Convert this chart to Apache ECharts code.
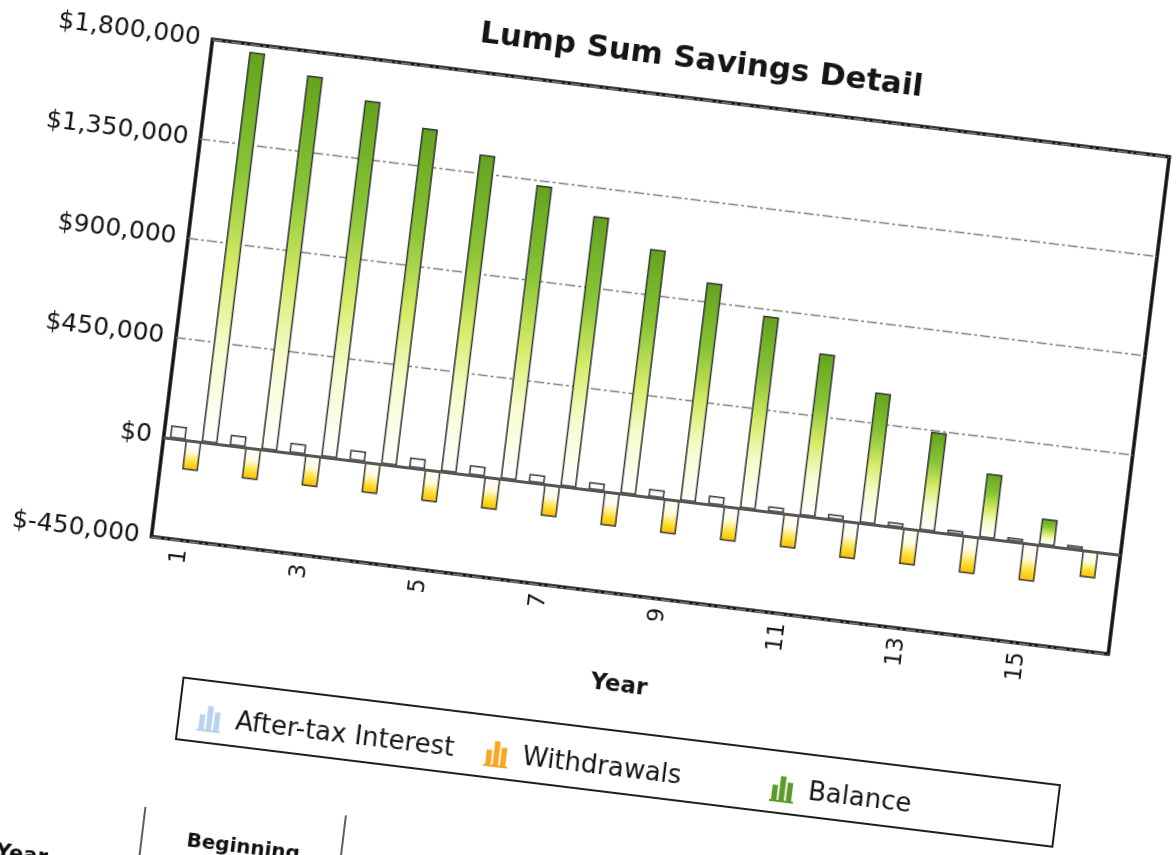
<!DOCTYPE html>
<html>
<head>
<meta charset="utf-8">
<script src="https://cdn.jsdelivr.net/npm/echarts@6/dist/echarts.min.js"></script>
<style>
  html, body { margin: 0; padding: 0; width: 1176px; height: 855px; overflow: hidden; background: #fff; }
  /* the printed page sits tilted on the scanner bed */
  #chart { position: absolute; left: 0; top: 0; width: 1260px; height: 960px;
           transform-origin: 588px 427.5px; transform: rotate(7deg); }
</style>
</head>
<body>
<div id="chart"></div>
<script>
// Year-by-year schedule of the lump sum account
const years = ['1', '2', '3', '4', '5', '6', '7', '8', '9', '10', '11', '12', '13', '14', '15', '16'];
const afterTaxInterest = [57000, 48000, 45000, 46000, 45000, 44000, 37000, 34000, 36000, 40000, 24000, 23000, 20000, 18000, 17000, 16000];
const withdrawals = [-133000, -141000, -140000, -138000, -142000, -143000, -143000, -153000, -155000, -155000, -152000, -167000, -163000, -168000, -169000, -121000];
const balance = [1765000, 1692000, 1612000, 1522000, 1434000, 1328000, 1222000, 1106000, 988000, 870000, 733000, 590000, 445000, 290000, 119000, 0];

const yTickValues = [-450000, 0, 450000, 900000, 1350000, 1800000];
const yTickLabels = ['$-450,000', '$0', '$450,000', '$900,000', '$1,350,000', '$1,800,000'];
const seriesNames = ['After-tax Interest', 'Withdrawals', 'Balance'];
const legendColors = ['#b9d2ee', '#f6a824', '#5e9a2a'];

const FONT = 'DejaVu Sans';
const barIcon = 'path://M2,28V12h6v16z M10,28V2h6v26z M18,28V8h6v20z M0,28h26v2H0z';

const chart = echarts.init(document.getElementById('chart'), null, { renderer: 'canvas' });

function legendFor(i, left) {
  return {
    left: left, top: 745,
    orient: 'horizontal',
    data: [{ name: seriesNames[i], icon: barIcon, itemStyle: { color: legendColors[i], borderWidth: 0 } }],
    itemWidth: 24, itemHeight: 28,
    selectedMode: false,
    textStyle: { fontFamily: FONT, fontSize: 26, color: '#161616', padding: [0, 0, 0, 9] }
  };
}

chart.setOption({
  animation: false,
  backgroundColor: '#fff',
  title: {
    text: 'Lump Sum Savings Detail',
    left: 651, top: 29, textAlign: 'center',
    textStyle: { fontFamily: FONT, fontSize: 31, fontWeight: 'bold', color: '#151515' }
  },
  legend: [legendFor(0, 231), legendFor(1, 520), legendFor(2, 808)],
  grid: {
    left: 168, top: 88, width: 964, height: 501,
    show: true, borderColor: '#111', borderWidth: 3.5, backgroundColor: '#fff'
  },
  xAxis: {
    type: 'category',
    data: years,
    position: 'bottom',
    axisLine: { show: false, onZero: false },
    axisTick: { show: false },
    axisLabel: { interval: 1, rotate: 90, margin: 9, fontFamily: FONT, fontSize: 23, color: '#141414' },
    name: 'Year',
    nameLocation: 'middle',
    nameGap: 80,
    nameTextStyle: { fontFamily: FONT, fontSize: 23, fontWeight: 'bold', color: '#151515' }
  },
  yAxis: {
    type: 'value',
    min: yTickValues[0],
    max: yTickValues[yTickValues.length - 1],
    interval: 450000,
    axisLine: { show: false },
    axisTick: { show: false },
    axisLabel: {
      margin: 12, fontFamily: FONT, fontSize: 25, color: '#141414',
      formatter: v => yTickLabels[yTickValues.indexOf(v)]
    },
    splitLine: { lineStyle: { color: '#808080', width: 1.3, type: [10, 3, 3, 3] } }
  },
  series: [
    {
      name: seriesNames[0], type: 'bar', data: afterTaxInterest,
      barWidth: 16, barGap: '0%',
      itemStyle: { color: '#fbfcfe', borderColor: '#3a3a3a', borderWidth: 1.5 }
    },
    {
      name: seriesNames[1], type: 'bar', data: withdrawals,
      barWidth: 16, barGap: '0%',
      itemStyle: {
        borderColor: '#3a3a3a', borderWidth: 1.5,
        color: new echarts.graphic.LinearGradient(0, 0, 0, 1, [
          { offset: 0, color: '#ffffff' },
          { offset: 0.4, color: '#fffbe0' },
          { offset: 0.72, color: '#ffe033' },
          { offset: 1, color: '#ffbb00' }
        ])
      }
    },
    {
      name: seriesNames[2], type: 'bar', data: balance,
      barWidth: 16, barGap: '0%',
      itemStyle: {
        borderColor: '#333', borderWidth: 1.5,
        color: new echarts.graphic.LinearGradient(0, 0, 0, 1, [
          { offset: 0, color: '#64a31e' },
          { offset: 0.3, color: '#88c436' },
          { offset: 0.55, color: '#d6ec68' },
          { offset: 0.75, color: '#f7fbcc' },
          { offset: 1, color: '#ffffff' }
        ])
      },
      markLine: {
        silent: true, symbol: ['none', 'none'], label: { show: false },
        lineStyle: { color: '#555', width: 3, type: 'solid' },
        data: [{ yAxis: 0 }]
      }
    }
  ],
  graphic: [
    { type: 'rect', shape: { x: 217, y: 725, width: 883, height: 62 },
      style: { fill: 'none', stroke: '#1e1e1e', lineWidth: 2 }, silent: true },
    // header of the schedule table below the chart
    { type: 'line', shape: { x1: 195, y1: 858, x2: 195, y2: 960 },
      style: { stroke: '#2a2a2a', lineWidth: 1.5 }, silent: true },
    { type: 'line', shape: { x1: 395, y1: 842, x2: 395, y2: 960 },
      style: { stroke: '#2a2a2a', lineWidth: 1.5 }, silent: true },
    { type: 'text', left: 52, top: 911,
      style: { text: 'Year', font: 'bold 21px "DejaVu Sans"', fill: '#111' }, silent: true },
    { type: 'text', left: 240, top: 877,
      style: { text: 'Beginning', font: 'bold 20px "DejaVu Sans"', fill: '#111' }, silent: true }
  ]
});
</script>
</body>
</html>
